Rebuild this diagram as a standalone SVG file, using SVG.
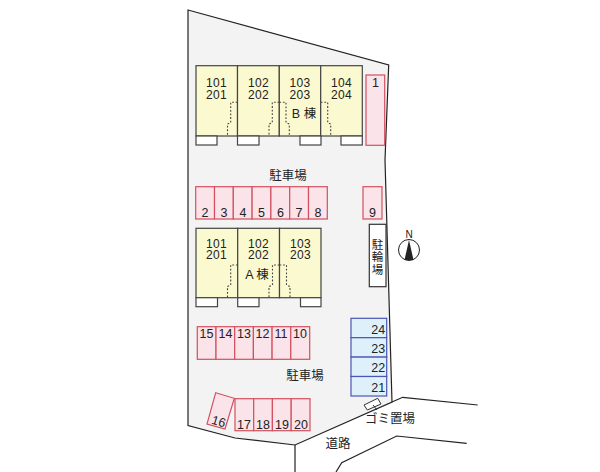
<svg xmlns="http://www.w3.org/2000/svg" width="600" height="472" viewBox="0 0 600 472">
<style>
text{font-family:"Liberation Sans","Noto Sans CJK JP",sans-serif;fill:#222;text-anchor:middle}
.u{font-size:12px;letter-spacing:.4px}
.p{font-size:12.5px}
.j{font-size:12.5px}
.v{font-size:11.5px}
.b{fill:#fbf9cf;stroke:#444;stroke-width:1.2}
.s{fill:#fff;stroke:#444;stroke-width:1.2}
.r{fill:#fbe3ea;stroke:#d2505f;stroke-width:1.2}
.l{fill:#def1fb;stroke:#4a55b5;stroke-width:1.2}
.d{fill:none;stroke:#444;stroke-width:1.1;stroke-dasharray:1.8 1.8}
.k{fill:none;stroke:#222;stroke-width:1.2}
</style>
<rect width="600" height="472" fill="#fff"/>
<g id="site"><path d="M188 10L388.700 65L385 160L392 402L295 445L235 438L188 425.500Z" fill="#f3f3f3" stroke="#222" stroke-width="1.200"/></g>
<g id="road"><path class="k" d="M392 402L402.700 397.300L477.700 405M295 445V472M336 472L341.700 462.700L396.700 436L466.700 443.300"/></g>
<g id="building-b">
<rect class="b" x="196" y="65.700" width="41.500" height="70.300"/><rect class="b" x="237.500" y="65.700" width="41.800" height="70.300"/><rect class="b" x="279.300" y="65.700" width="41.400" height="70.300"/><rect class="b" x="320.700" y="65.700" width="41.600" height="70.300"/>
<rect class="s" x="196" y="136" width="21" height="9"/><rect class="s" x="237.500" y="136" width="21.500" height="9"/><rect class="s" x="300" y="136" width="21" height="9"/><rect class="s" x="341" y="136" width="21.300" height="9"/>
<path class="d" d="M237.500 102.300H230.700V122.700L227.500 124V136M279.300 102.300H272.300V122.700L269 124V136M279.300 102.300H286V122.700L289.300 124V136M320.700 102.300H327.700V122.700L330.700 124V136"/>
<text class="u" x="216.500" y="87.300">101</text><text class="u" x="216.500" y="98.700">201</text><text class="u" x="258.500" y="87.300">102</text><text class="u" x="258.500" y="98.700">202</text><text class="u" x="300" y="87.300">103</text><text class="u" x="300" y="98.700">203</text><text class="u" x="341.500" y="87.300">104</text><text class="u" x="341.500" y="98.700">204</text>
<text class="j" x="304" y="118">B 棟</text>
</g>
<g id="building-a">
<rect class="b" x="196" y="228.300" width="41.700" height="69.400"/><rect class="b" x="237.700" y="228.300" width="41.800" height="69.400"/><rect class="b" x="279.500" y="228.300" width="41.500" height="69.400"/>
<rect class="s" x="196" y="297.700" width="21.500" height="9"/><rect class="s" x="237.700" y="297.700" width="21.300" height="9"/><rect class="s" x="300.500" y="297.700" width="20.500" height="9"/>
<path class="d" d="M237.700 265H230.700V285L227.500 286.500V297.700M279.500 265H272.500V285L269 286.500V297.700M279.500 265H286.500V285L290 286.500V297.700"/>
<text class="u" x="216.500" y="247.500">101</text><text class="u" x="216.500" y="259">201</text><text class="u" x="258.500" y="247.500">102</text><text class="u" x="258.500" y="259">202</text><text class="u" x="300.500" y="247.500">103</text><text class="u" x="300.500" y="259">203</text>
<text class="j" x="257" y="278.500">A 棟</text>
</g>
<g id="parking-1"><rect class="r" x="366" y="75" width="18.700" height="70.300"/><text class="p" x="375.500" y="87.300">1</text></g>
<g id="parking-2-8">
<rect class="r" x="195.700" y="186.700" width="18.800" height="32.300"/><rect class="r" x="214.500" y="186.700" width="18.800" height="32.300"/><rect class="r" x="233.300" y="186.700" width="18.800" height="32.300"/><rect class="r" x="252.100" y="186.700" width="18.800" height="32.300"/><rect class="r" x="270.900" y="186.700" width="18.800" height="32.300"/><rect class="r" x="289.700" y="186.700" width="18.800" height="32.300"/><rect class="r" x="308.500" y="186.700" width="18.800" height="32.300"/>
<text class="p" x="205" y="216.700">2</text><text class="p" x="224" y="216.700">3</text><text class="p" x="243" y="216.700">4</text><text class="p" x="261.500" y="216.700">5</text><text class="p" x="280.500" y="216.700">6</text><text class="p" x="299" y="216.700">7</text><text class="p" x="318" y="216.700">8</text>
</g>
<g id="parking-9"><rect class="r" x="363" y="186.700" width="19" height="32.300"/><text class="p" x="372.500" y="216.700">9</text></g>
<g id="parking-10-15">
<rect class="r" x="197.300" y="326.700" width="18.700" height="32.600"/><rect class="r" x="216" y="326.700" width="18.700" height="32.600"/><rect class="r" x="234.700" y="326.700" width="18.700" height="32.600"/><rect class="r" x="253.400" y="326.700" width="18.700" height="32.600"/><rect class="r" x="272.100" y="326.700" width="18.700" height="32.600"/><rect class="r" x="290.800" y="326.700" width="18.900" height="32.600"/>
<text class="p" x="206.500" y="338">15</text><text class="p" x="225.500" y="338">14</text><text class="p" x="244" y="338">13</text><text class="p" x="262.500" y="338">12</text><text class="p" x="281" y="338">11</text><text class="p" x="300" y="338">10</text>
</g>
<g id="parking-16"><path class="r" d="M215.700 392.700L234.300 398.300L225 429L207 424Z"/><text class="p" transform="translate(217.500 425.500) rotate(17)">16</text></g>
<g id="parking-17-20">
<rect class="r" x="235" y="398.700" width="18.700" height="32"/><rect class="r" x="253.700" y="398.700" width="18.700" height="32"/><rect class="r" x="272.400" y="398.700" width="18.800" height="32"/><rect class="r" x="291.200" y="398.700" width="18.800" height="32"/>
<text class="p" x="244" y="429">17</text><text class="p" x="263" y="429">18</text><text class="p" x="282" y="429">19</text><text class="p" x="301" y="429">20</text>
</g>
<g id="bike-21-24">
<rect class="l" x="351" y="318.300" width="35.700" height="19.400"/><rect class="l" x="351" y="337.700" width="35.700" height="19.400"/><rect class="l" x="351" y="357.100" width="35.700" height="19.400"/><rect class="l" x="351" y="376.500" width="35.700" height="19.500"/>
<text class="p" x="378.300" y="333.500">24</text><text class="p" x="378.300" y="353.300">23</text><text class="p" x="378.300" y="372.300">22</text><text class="p" x="378.300" y="392">21</text>
</g>
<g id="bike-shed"><rect x="369.300" y="224.300" width="16.700" height="62.400" fill="#fff" stroke="#333" stroke-width="1.200"/><text class="v" x="377.500" y="248.500">駐</text><text class="v" x="377.500" y="261">輪</text><text class="v" x="377.500" y="273.500">場</text></g>
<g id="compass"><circle cx="409" cy="250" r="10.500" fill="#fff" stroke="#222" stroke-width="1"/><path d="M409 240L404.500 260H413.500Z" fill="#222"/><text x="409" y="238.300" font-size="10">N</text></g>
<g id="garbage"><path d="M364 405L377.700 398.300L381 404L367.300 410Z" fill="#fff" stroke="#333"/><path d="M373 405L377 410" stroke="#333" fill="none"/><text class="j" x="390" y="423">ゴミ置場</text></g>
<g id="labels"><text class="j" x="288" y="179.500">駐車場</text><text class="j" x="305" y="380">駐車場</text><text class="j" x="338" y="447.500">道路</text></g>
</svg>
